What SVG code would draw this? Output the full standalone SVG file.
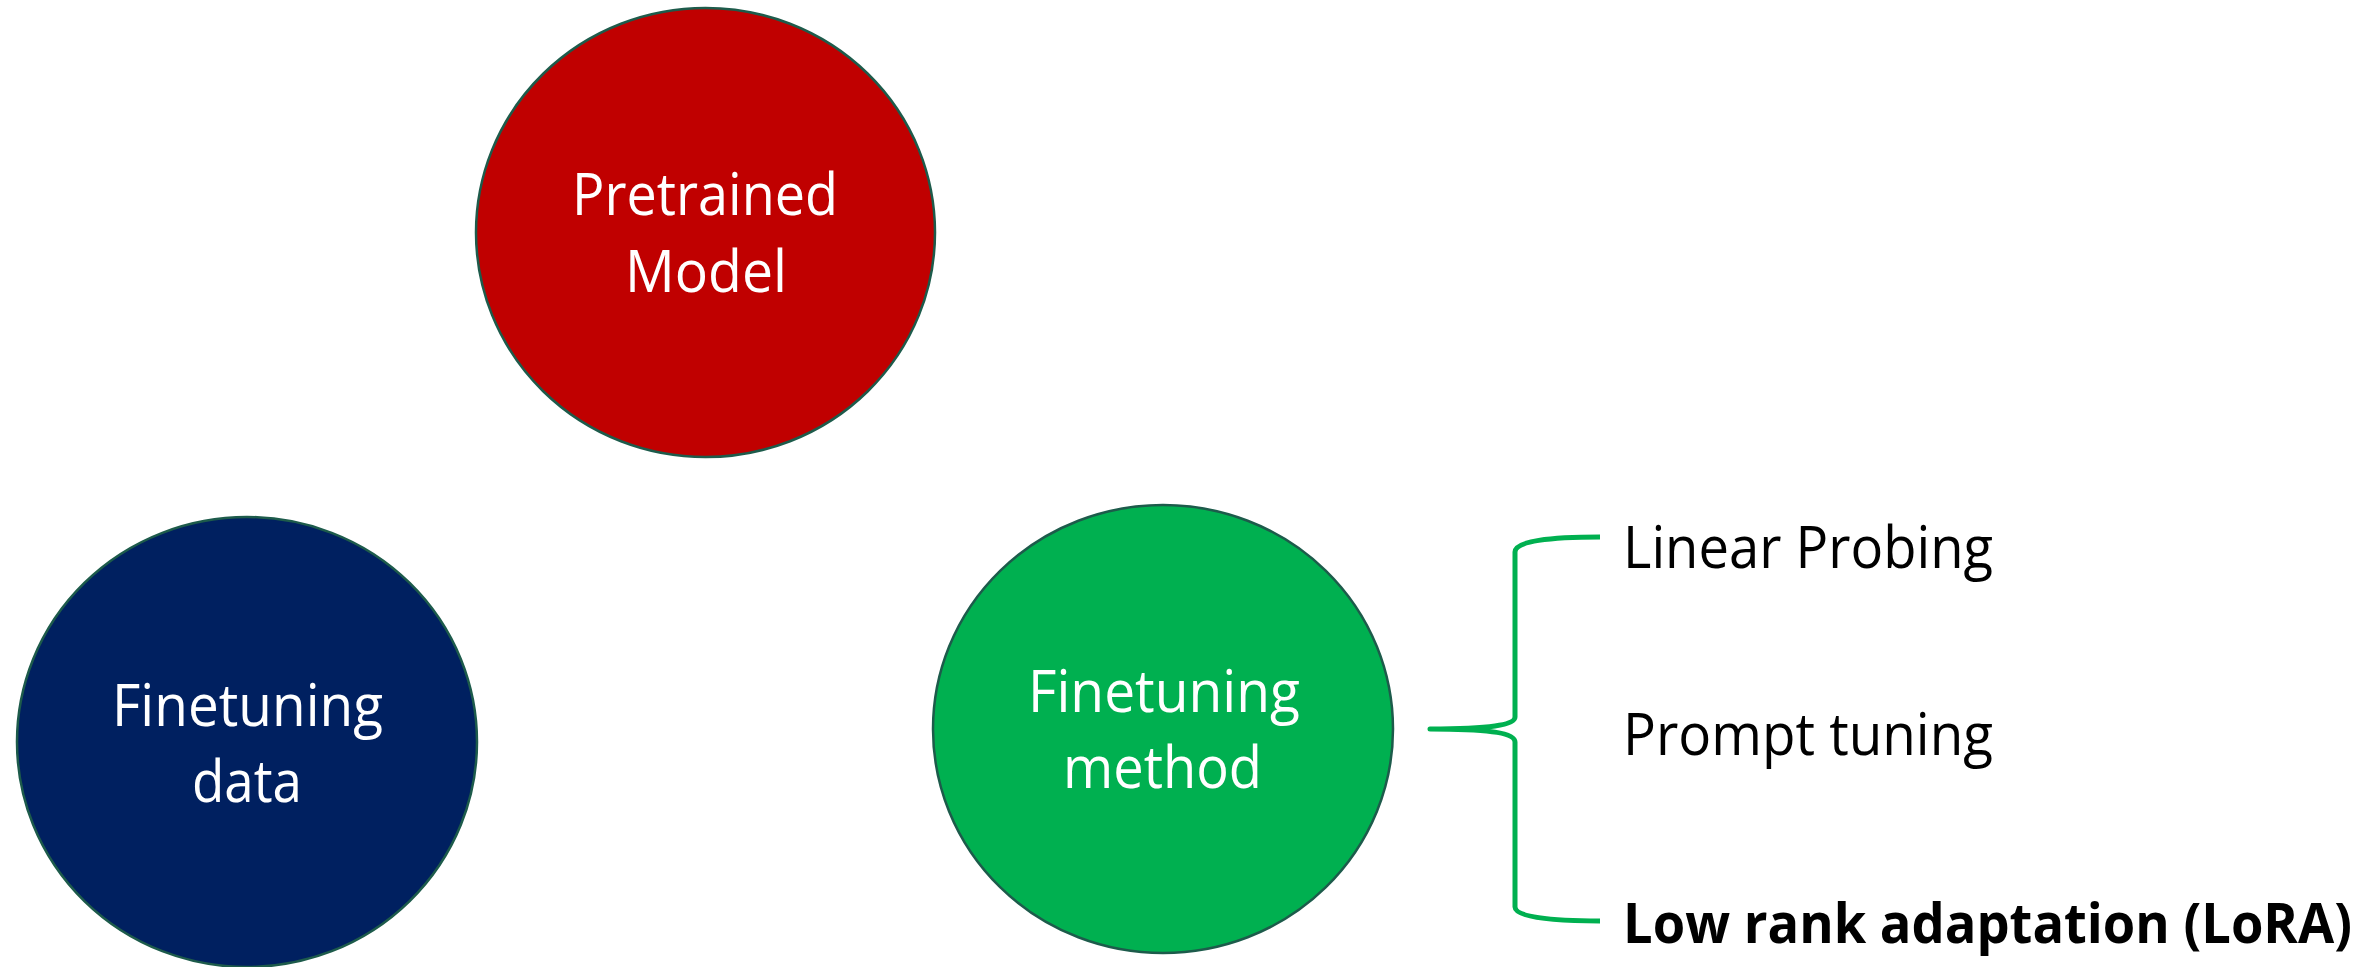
<svg xmlns="http://www.w3.org/2000/svg" width="2366" height="967" viewBox="0 0 2366 967">
<style>
.node{stroke:#1d5b4b;stroke-width:2.5}
.ct{font-family:"Open Sans","Noto Sans",sans-serif;font-size:58px;fill:#ffffff;text-anchor:middle}
.lt{font-family:"Open Sans","Noto Sans",sans-serif;font-size:58px;fill:#000000}
.bt{font-family:"Open Sans","Noto Sans",sans-serif;font-size:56px;font-weight:bold;fill:#000000}
.brace{fill:none;stroke:#00b050;stroke-width:5;stroke-linejoin:round}
</style>
<rect width="2366" height="967" fill="#ffffff"/>
<g id="pretrained-model">
<ellipse class="node" cx="705.5" cy="232.5" rx="229.5" ry="224.5" fill="#c00000"/>
<text class="ct" x="705" y="215" textLength="266" lengthAdjust="spacingAndGlyphs">Pretrained</text>
<text class="ct" x="706" y="292" textLength="162" lengthAdjust="spacingAndGlyphs">Model</text>
</g>
<g id="finetuning-data">
<ellipse class="node" cx="247" cy="742" rx="230" ry="225" fill="#002060"/>
<text class="ct" x="247.5" y="726" textLength="271" lengthAdjust="spacingAndGlyphs">Finetuning</text>
<text class="ct" x="247" y="802" textLength="110" lengthAdjust="spacingAndGlyphs">data</text>
</g>
<g id="finetuning-method">
<ellipse class="node" cx="1163" cy="729" rx="230" ry="224" fill="#00b050"/>
<text class="ct" x="1164" y="712" textLength="272" lengthAdjust="spacingAndGlyphs">Finetuning</text>
<text class="ct" x="1162.5" y="788" textLength="199" lengthAdjust="spacingAndGlyphs">method</text>
</g>
<g id="connectors">
<path class="brace" d="M1600,537 C1550,537 1515,541 1515,552 L1515,717 C1515,725 1490,729 1430,729 C1490,729 1515,733 1515,742 L1515,907 C1515,917 1550,921 1600,921"/>
</g>
<g id="linear-probing">
<text class="lt" x="1623" y="568" textLength="370" lengthAdjust="spacingAndGlyphs">Linear Probing</text>
</g>
<g id="prompt-tuning">
<text class="lt" x="1623" y="755" textLength="370" lengthAdjust="spacingAndGlyphs">Prompt tuning</text>
</g>
<g id="lora">
<text class="bt" x="1623" y="943" textLength="729" lengthAdjust="spacingAndGlyphs">Low rank adaptation (LoRA)</text>
</g>
</svg>
